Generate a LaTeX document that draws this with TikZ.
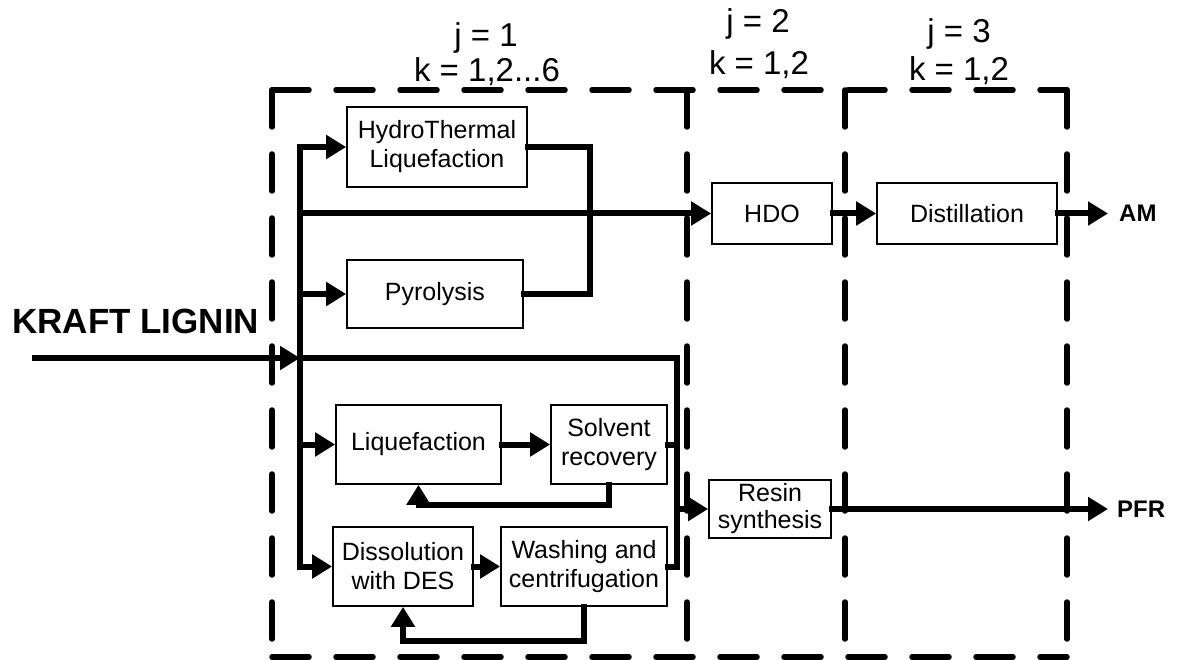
\documentclass[tikz,border=0pt]{standalone}
\usepackage{fontspec}
\setmainfont{Liberation Sans}
\usetikzlibrary{arrows.meta}
\begin{document}
\begin{tikzpicture}[x=1pt,y=-1pt,
  box/.style={draw,line width=1.7pt,inner sep=0pt,align=center,
    font=\fontsize{25}{29}\selectfont},
  pipe/.style={line width=6pt,line cap=rect,line join=miter},
  flow/.style={pipe,-{Triangle[length=20pt,width=23pt]}},
  zone/.style={line width=5.5pt,dash pattern=on 37pt off 27pt,line cap=round},
  hdr/.style={font=\fontsize{33}{37}\selectfont,anchor=base,inner sep=0pt},
  outlbl/.style={font=\bfseries\fontsize{24}{28}\selectfont,anchor=west,inner xsep=11pt,inner ysep=0pt}]
\useasboundingbox (0,0) rectangle (1177,660);

% zones
\draw[zone] (272,90) -- (1067,90);
\draw[zone] (272,90) -- (272,657);
\draw[zone] (1067,90) -- (1067,657);
\draw[zone] (272,657) -- (1067,657);
\draw[zone] (687,90) -- (687,657);
\draw[zone] (845,90) -- (845,657);

% headers
\node[hdr] (j1) at (486,47) {j = 1};
\node[hdr] (k1) at (487,82) {k = 1,2...6};
\node[hdr] (j2) at (758,33) {j = 2};
\node[hdr] (k2) at (759,75) {k = 1,2};
\node[hdr] (j3) at (959,43) {j = 3};
\node[hdr] (k3) at (959,81) {k = 1,2};

% boxes
\node[box,minimum width=180pt,minimum height=80pt] (htl) at (437,147) {HydroThermal\\Liquefaction};
\node[box,minimum width=176pt,minimum height=68pt] (pyr) at (435,294) {Pyrolysis};
\node[box,minimum width=165pt,minimum height=79pt] (liq) at (418.5,444.5) {Liquefaction};
\node[box,minimum width=116pt,minimum height=79pt] (solv) at (609,444.5) {Solvent\\recovery};
\node[box,minimum width=140pt,minimum height=79pt] (diss) at (403,566.5) {Dissolution\\with DES};
\node[box,minimum width=166pt,minimum height=79pt] (wash) at (584,566.5) {Washing and\\centrifugation};
\node[box,minimum width=120pt,minimum height=61pt] (hdo) at (772,213.5) {HDO};
\node[box,minimum width=180pt,minimum height=61pt] (dist) at (967,213.5) {Distillation};
\node[box,minimum width=122pt,minimum height=58pt,font=\fontsize{25}{27}\selectfont] (resin) at (770,509) {Resin\\synthesis};

% labels
\node[font=\bfseries\fontsize{35}{40}\selectfont,anchor=base west,inner sep=0pt] (kl) at (12,333) {KRAFT LIGNIN};
\node[outlbl] (am) at (1108,213.5) {AM};
\node[outlbl,inner xsep=9pt] (pfr) at (1108,509) {PFR};

% junction coordinates
\coordinate (in) at (35,358);
\coordinate (j0) at (300,358);
\coordinate (bus) at (300,0);
\coordinate (col) at (677,0);
\coordinate (mer) at (590,0);

% connectors
\draw[flow] (in) -- (j0);
\draw[flow] (bus|-diss.west) -- (bus|-htl.west) -- (htl.west);
\draw[flow] (bus|-pyr.west) -- (pyr.west);
\draw[flow] (bus|-hdo.west) -- (hdo.west);
\draw[flow] (bus|-liq.west) -- (liq.west);
\draw[flow] (bus|-diss.west) -- (diss.west);
\draw[pipe] (htl.east) -- (mer|-htl.east) -- (mer|-pyr.east) -- (pyr.east);
\draw[flow] (liq.east) -- (solv.west);
\draw[flow] (diss.east) -- (wash.west);
\draw[flow] (solv.south) -- ++(0,20) -| (liq.south);
\draw[flow] (wash.south) -- ++(0,34) -| (diss.south);
\draw[pipe] (j0) -- (col|-j0) -- (col|-wash.east) -- (wash.east);
\draw[pipe] (solv.east) -- (col|-solv.east);
\draw[flow] (col|-resin.west) -- (resin.west);
\draw[flow] (hdo.east) -- (dist.west);
\draw[flow] (dist.east) -- (am.west);
\draw[flow] (resin.east) -- (pfr.west);
\end{tikzpicture}
\end{document}
